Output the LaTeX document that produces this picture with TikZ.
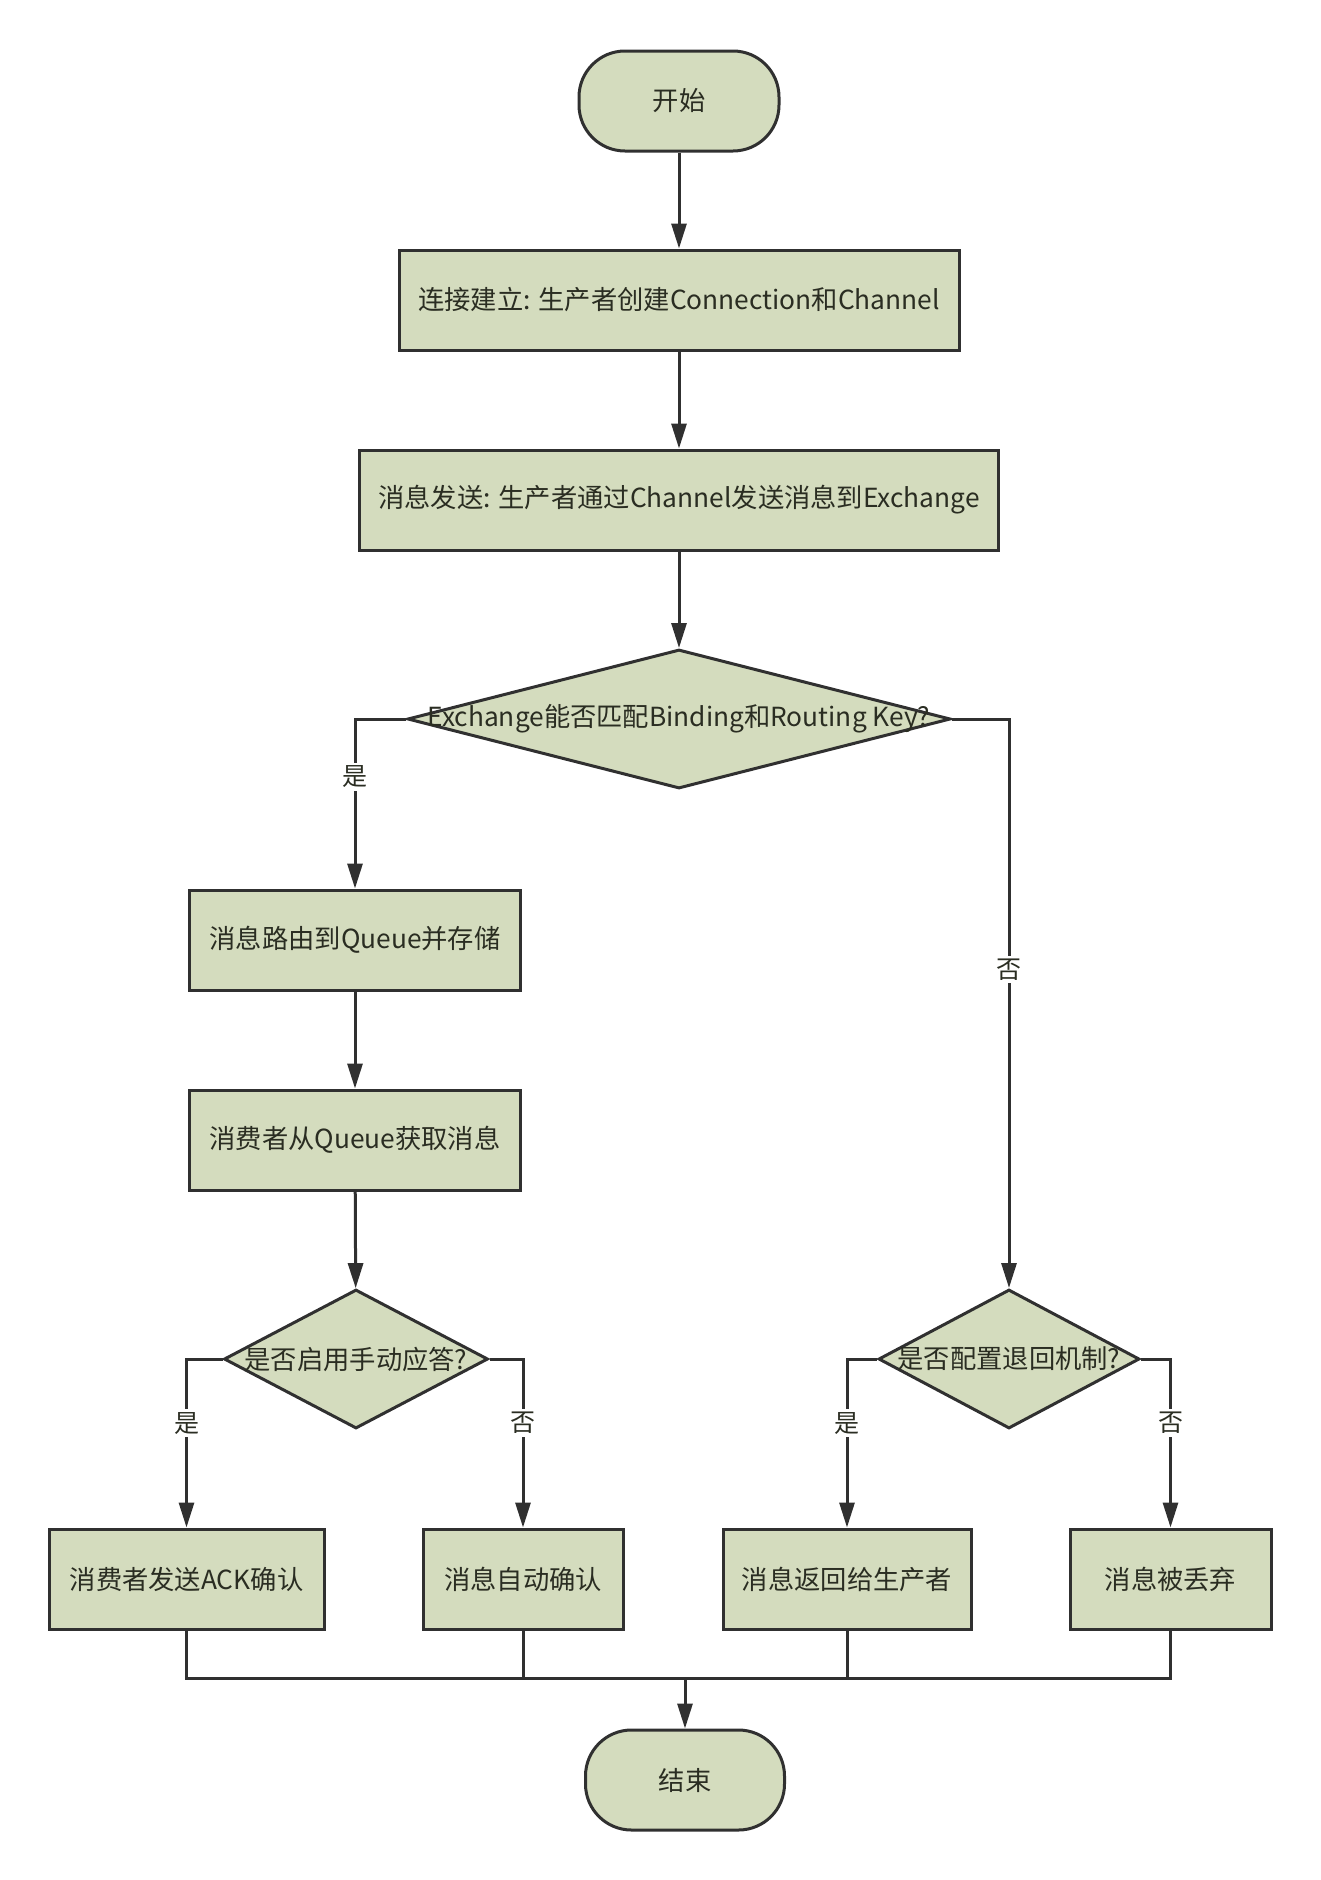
\documentclass[tikz,border=0pt]{standalone}
\usepackage{fontspec}
\setmainfont{Noto Sans CJK SC}
\usetikzlibrary{shapes.geometric,arrows.meta}
\definecolor{boxfill}{HTML}{D4DCBE}
\definecolor{linec}{HTML}{303030}
\definecolor{txtc}{HTML}{2A2D22}
\tikzset{
  base/.style={draw=linec, line width=3pt, fill=boxfill, text=txtc, font=\fontsize{26.3pt}{31pt}\selectfont, inner sep=0pt},
  term/.style={base, rectangle, rounded corners=46pt, minimum width=200pt, minimum height=100pt},
  proc/.style={base, rectangle, minimum height=100pt},
  dec/.style={base, diamond, minimum height=139pt},
  arr/.style={draw=linec, line width=3pt, -{Triangle[length=25pt,width=15pt]}},
  conn/.style={draw=linec, line width=3pt},
  lbl/.style={fill=white, text=txtc, font=\fontsize{25pt}{29pt}\selectfont, inner sep=3pt}
}
\begin{document}
\begin{tikzpicture}[x=1pt,y=-1pt]
\useasboundingbox (0,0) rectangle (1321,1880);
\node[term] (start) at (679,101) {开始};
\node[proc, minimum width=560pt] (b1) at (679,300) {连接建立: 生产者创建Connection和Channel};
\node[proc, minimum width=639pt] (b2) at (679,500) {消息发送: 生产者通过Channel发送消息到Exchange};
\node[dec, minimum width=543pt] (d1) at (679,719) {\makebox[0pt]{Exchange能否匹配Binding和Routing Key?}};
\node[proc, minimum width=331pt] (b3) at (355,940) {消息路由到Queue并存储};
\node[proc, minimum width=331pt] (b4) at (355,1140) {消费者从Queue获取消息};
\node[dec, minimum width=264pt] (d2) at (356,1359) {\makebox[0pt]{是否启用手动应答?}};
\node[dec, minimum width=261pt] (d3) at (1009,1359) {\makebox[0pt]{是否配置退回机制?}};
\node[proc, minimum width=275pt] (ba) at (186.5,1579) {消费者发送ACK确认};
\node[proc, minimum width=200pt] (bb) at (523,1579) {消息自动确认};
\node[proc, minimum width=248pt] (bc) at (847,1579) {消息返回给生产者};
\node[proc, minimum width=201pt] (bd) at (1170.5,1579) {消息被丢弃};
\node[term, minimum width=199pt] (end) at (685,1780) {结束};
\coordinate (mrg) at (685,1678);

\draw[arr] (start) -- (b1);
\draw[arr] (b1) -- (b2);
\draw[arr] (b2) -- (d1);
\draw[arr] (d1.west) -| node[lbl, pos=0.67] {是} (b3.north);
\draw[arr] (d1.east) -| node[lbl, pos=0.72] {否} (d3.north);
\draw[arr] (b3) -- (b4);
\draw[arr] (b4) -- (d2);
\draw[arr] (d2.west) -| node[lbl, pos=0.69] {是} (ba.north);
\draw[arr] (d2.east) -| node[lbl, pos=0.69] {否} (bb.north);
\draw[arr] (d3.west) -| node[lbl, pos=0.69] {是} (bc.north);
\draw[arr] (d3.east) -| node[lbl, pos=0.69] {否} (bd.north);
\draw[conn] (ba.south) |- (mrg);
\draw[conn] (bd.south) |- (mrg);
\draw[conn] (bb.south) -- (bb.south |- mrg);
\draw[conn] (bc.south) -- (bc.south |- mrg);
\draw[arr] (mrg) -- (end.north);
\end{tikzpicture}
\end{document}
